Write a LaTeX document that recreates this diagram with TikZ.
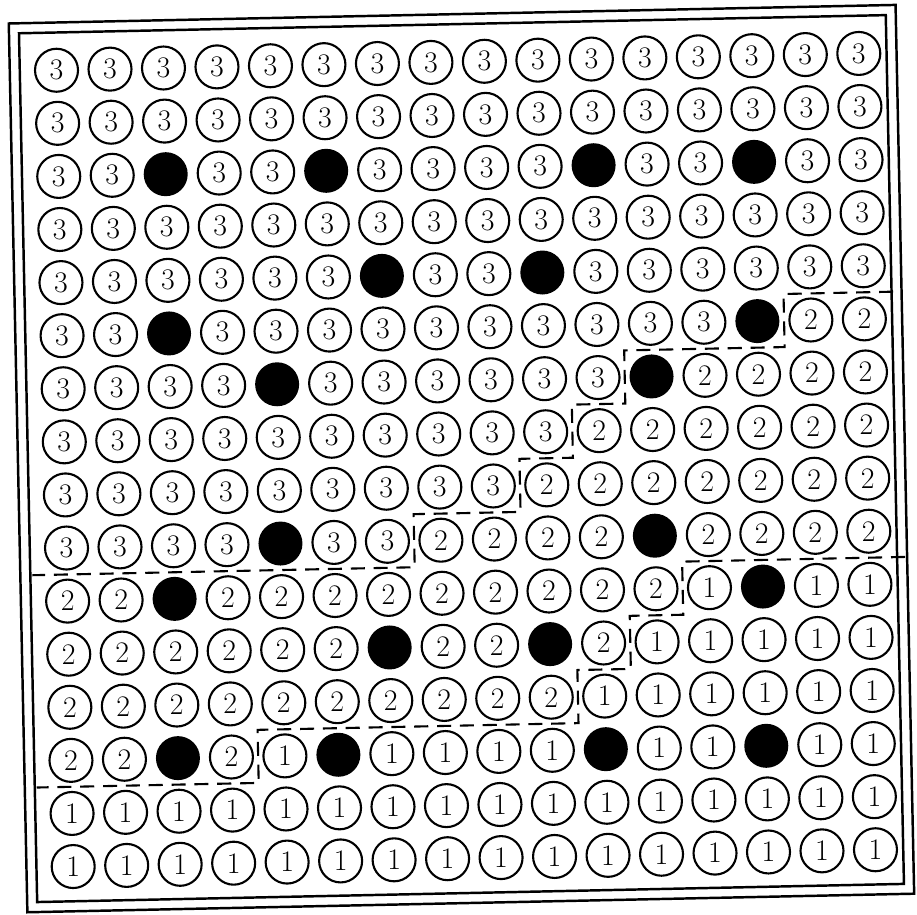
\documentclass[tikz,border=0pt]{standalone}
\usepackage{tikz}
\usetikzlibrary{positioning, calc}

\tikzset{
  pin/.style={draw, circle, line width=1.2pt, minimum size=0.86cm,
              inner sep=0pt, font=\fontsize{17}{17}\selectfont},
  rod/.style={circle, fill=black, minimum size=0.88cm, inner sep=0pt},
  zone/.style={line width=1.2pt, dash pattern=on 8pt off 5pt},
  frame/.style={line width=1.4pt}
}

\begin{document}
\begin{tikzpicture}[x=0.02cm, y=-0.02cm]
    \useasboundingbox (0,0) rectangle (917,915);
  \begin{scope}[rotate around={1.2:(466,460)}]
    \draw[frame] (18,14) rectangle (905,903);
    \draw[frame] (28,24) rectangle (895,893);

    % 0 = filled position
    \foreach \r/\vals in {
        1/{3,3,3,3,3,3,3,3,3,3,3,3,3,3,3,3},
        2/{3,3,3,3,3,3,3,3,3,3,3,3,3,3,3,3},
        3/{3,3,0,3,3,0,3,3,3,3,0,3,3,0,3,3},
        4/{3,3,3,3,3,3,3,3,3,3,3,3,3,3,3,3},
        5/{3,3,3,3,3,3,0,3,3,0,3,3,3,3,3,3},
        6/{3,3,0,3,3,3,3,3,3,3,3,3,3,0,2,2},
        7/{3,3,3,3,0,3,3,3,3,3,3,0,2,2,2,2},
        8/{3,3,3,3,3,3,3,3,3,3,2,2,2,2,2,2},
        9/{3,3,3,3,3,3,3,3,3,2,2,2,2,2,2,2},
        10/{3,3,3,3,0,3,3,2,2,2,2,0,2,2,2,2},
        11/{2,2,0,2,2,2,2,2,2,2,2,2,1,0,1,1},
        12/{2,2,2,2,2,2,0,2,2,0,2,1,1,1,1,1},
        13/{2,2,2,2,2,2,2,2,2,2,1,1,1,1,1,1},
        14/{2,2,0,2,1,0,1,1,1,1,0,1,1,0,1,1},
        15/{1,1,1,1,1,1,1,1,1,1,1,1,1,1,1,1},
        16/{1,1,1,1,1,1,1,1,1,1,1,1,1,1,1,1}}
      \foreach \v [count=\c] in \vals {
        \ifnum\v=0
          \node[rod] (n-\r-\c) at ({466+(\c-8.5)*53.5},{460+(\r-8.5)*53.1}) {};
        \else
          \node[pin] (n-\r-\c) at ({466+(\c-8.5)*53.5},{460+(\r-8.5)*53.1}) {\v};
        \fi
      };

    % ends of the zone lines
    \coordinate (a1) at ($(n-5-16)!0.5!(n-6-16)$);
    \coordinate (a2) at ($(n-5-15)!0.5!(n-6-15)$);
    \coordinate (b1) at ($(n-10-1)!0.5!(n-11-1)$);
    \coordinate (b2) at ($(n-10-2)!0.5!(n-11-2)$);
    \coordinate (c1) at ($(n-10-16)!0.5!(n-11-16)$);
    \coordinate (c2) at ($(n-10-15)!0.5!(n-11-15)$);
    \coordinate (d1) at ($(n-14-1)!0.5!(n-15-1)$);
    \coordinate (d2) at ($(n-14-2)!0.5!(n-15-2)$);

    % zone 3 / zone 2
    \draw[zone] ($(a2)!1.55!(a1)$)
        -- ($(n-5-14)!0.5!(n-6-15)$) -- ($(n-6-14)!0.5!(n-7-15)$)
        -- ($(n-6-11)!0.5!(n-7-12)$) -- ($(n-7-11)!0.5!(n-8-12)$)
        -- ($(n-7-10)!0.5!(n-8-11)$) -- ($(n-8-10)!0.5!(n-9-11)$)
        -- ($(n-8-9)!0.5!(n-9-10)$) -- ($(n-9-9)!0.5!(n-10-10)$)
        -- ($(n-9-7)!0.5!(n-10-8)$) -- ($(n-10-7)!0.5!(n-11-8)$)
        -- ($(b2)!1.65!(b1)$);

    % zone 2 / zone 1
    \draw[zone] ($(c2)!1.67!(c1)$)
        -- ($(n-10-12)!0.5!(n-11-13)$) -- ($(n-11-12)!0.5!(n-12-13)$)
        -- ($(n-11-11)!0.5!(n-12-12)$) -- ($(n-12-11)!0.5!(n-13-12)$)
        -- ($(n-12-10)!0.5!(n-13-11)$) -- ($(n-13-10)!0.5!(n-14-11)$)
        -- ($(n-13-4)!0.5!(n-14-5)$) -- ($(n-14-4)!0.5!(n-15-5)$)
        -- ($(d2)!1.65!(d1)$);
  \end{scope}
\end{tikzpicture}
\end{document}
